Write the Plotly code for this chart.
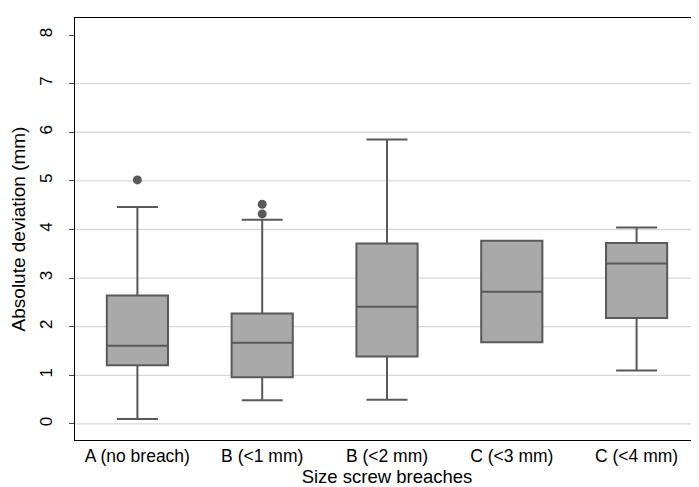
import plotly.graph_objects as go

categories = ["A (no breach)", "B (<1 mm)", "B (<2 mm)", "C (<3 mm)", "C (<4 mm)"]
q1 = [1.21, 0.96, 1.39, 1.68, 2.18]
median = [1.61, 1.67, 2.41, 2.72, 3.30]
q3 = [2.64, 2.27, 3.71, 3.77, 3.72]
lower = [0.10, 0.49, 0.50, 1.68, 1.10]
upper = [4.46, 4.20, 5.85, 3.77, 4.04]
outlier_x = ["A (no breach)", "B (<1 mm)", "B (<1 mm)"]
outlier_y = [5.02, 4.52, 4.32]
grid_vals = [0, 1, 2, 3, 4, 5, 6, 7]

fig = go.Figure()
fig.add_trace(go.Box(
    x=categories, q1=q1, median=median, q3=q3,
    lowerfence=lower, upperfence=upper,
    fillcolor="#a9a9a9", line=dict(color="#595959", width=2),
    width=0.49, whiskerwidth=0.67, boxpoints=False, showlegend=False,
))
fig.add_trace(go.Scatter(
    x=outlier_x, y=outlier_y, mode="markers",
    marker=dict(color="#595959", size=9), showlegend=False,
))
for g in grid_vals:
    fig.add_shape(type="line", xref="paper", x0=0, x1=1, yref="y", y0=g, y1=g,
                  line=dict(color="#d9d9d9", width=1.3), layer="below")

fig.update_layout(
    width=699, height=487,
    margin=dict(l=67, r=8, t=10, b=55, autoexpand=False),
    plot_bgcolor="white", paper_bgcolor="white",
    font=dict(family="Liberation Sans, Arial", size=17, color="#000000"),
)
fig.update_xaxes(
    type="category", categoryorder="array", categoryarray=categories,
    range=[-0.5, 4.5], showgrid=False, showline=True, mirror=True,
    linecolor="#000000", linewidth=1.3, ticks="",
    tickfont=dict(size=17.5),
    title=dict(text="Size screw breaches", standoff=0, font=dict(size=18.5)),
    automargin=False,
)
fig.update_yaxes(
    range=[-0.33, 8.35], tickvals=[0, 1, 2, 3, 4, 5, 6, 7, 8],
    tickangle=-90, showgrid=False, zeroline=False,
    showline=True, mirror=True, linecolor="#000000", linewidth=1.3,
    ticks="outside", ticklen=5, tickcolor="#444444", ticklabelstandoff=10,
    tickfont=dict(size=17),
    title=dict(text="Absolute deviation (mm)", standoff=6, font=dict(size=19)),
    automargin=False,
)
fig.write_html("out.html")
